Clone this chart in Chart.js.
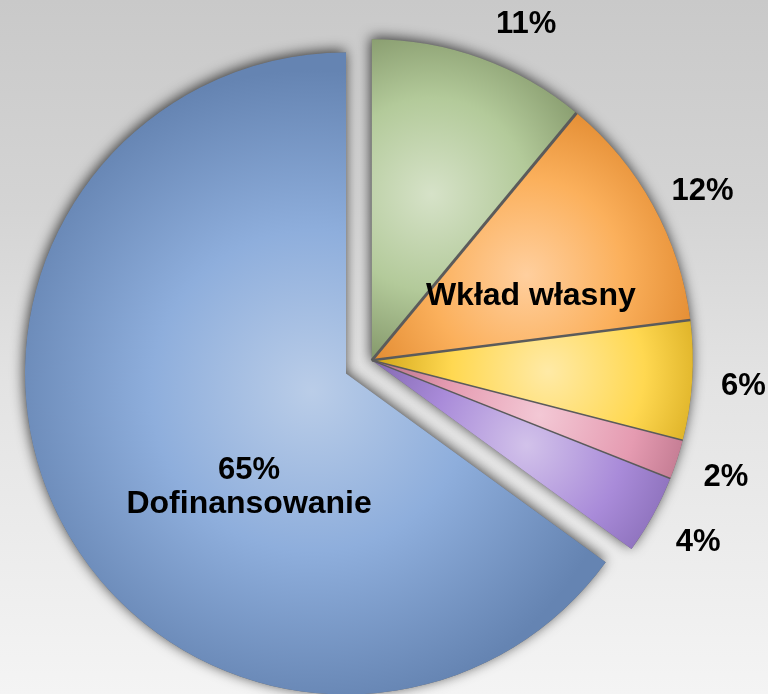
<!DOCTYPE html>
<html>
<head>
<meta charset="utf-8">
<script src="https://cdn.jsdelivr.net/npm/chart.js@4.4.1/dist/chart.umd.min.js"></script>
<style>
html,body{margin:0;padding:0;}
body{width:768px;height:694px;overflow:hidden;
  background:linear-gradient(to bottom,#c9c9c9 0%,#d4d4d4 30%,#e3e3e3 55%,#f4f4f4 100%);}
#wrap{position:relative;width:768px;height:694px;}
</style>
</head>
<body>
<div id="wrap"><canvas id="pie" width="768" height="694"></canvas></div>
<script>
// --- Data ---
const categories = ['', 'Wkład własny', '', '', '', 'Dofinansowanie'];
const shares     = [11, 12, 6, 2, 4, 65];
const pctLabels  = ['11%', '12%', '6%', '2%', '4%', '65%'];

// light / mid / dark per slice (Office-style radial shading)
const shades = [
  ['#d6e2c8', '#b3ca9a', '#7b8e61'],
  ['#ffcf9e', '#fbb05c', '#de852a'],
  ['#ffeaa6', '#ffd851', '#c89a0c'],
  ['#f3c8d5', '#e59bb1', '#a9637b'],
  ['#d2c2ea', '#a98bd9', '#7b61a9'],
  ['#bacde8', '#8eaedc', '#6584b2']
];

const BIG = shares.indexOf(Math.max(...shares));   // the slice that stays in place
const EXPLODE = 29;                                 // px the other slices are pulled out
const nudge = [4.7, 1.4, 0, 0, 0, 0];               // deg, outside label tweak
const sepWidth = [3, 2.5, 1.6, 1.4];                // separator line widths
const FONT = '"Liberation Sans", Arial, sans-serif';

function groupShift(arcs){
  const first = arcs[0], last = arcs[BIG-1];
  const mid = (first.startAngle + last.endAngle)/2;
  return {dx: Math.cos(mid)*EXPLODE, dy: Math.sin(mid)*EXPLODE};
}
function sector(ctx, x, y, r, a0, a1){
  ctx.beginPath();
  ctx.moveTo(x, y);
  ctx.arc(x, y, r, a0, a1);
  ctx.closePath();
}

function shade(c){
  const el = c.element, sh = shades[c.dataIndex];
  if(!el || el.x === undefined || el.outerRadius === undefined) return sh[1];
  const span = el.endAngle - el.startAngle, mid = (el.startAngle + el.endAngle)/2;
  const R = el.outerRadius;
  const f = span > Math.PI ? 0.12 : 0.55, gr = span > Math.PI ? 1.0 : 0.6;
  const gx = el.x + Math.cos(mid)*R*f, gy = el.y + Math.sin(mid)*R*f;
  const g = c.chart.ctx.createRadialGradient(gx, gy, 0, gx, gy, R*gr);
  g.addColorStop(0, sh[0]);
  g.addColorStop(0.5, sh[1]);
  g.addColorStop(1, sh[2]);
  return g;
}

// --- draw slices with shadow, exploded group, separators ---
const piePainter = {
  id: 'piePainter',
  beforeDatasetDraw(chart, args){
    const ctx = chart.ctx, arcs = args.meta.data;
    const s = groupShift(arcs), big = arcs[BIG], first = arcs[0], last = arcs[BIG-1];
    ctx.save();
    ctx.shadowColor = 'rgba(0,0,0,0.75)';
    ctx.shadowBlur = 13;
    ctx.shadowOffsetX = -1;
    ctx.shadowOffsetY = -2;
    ctx.fillStyle = '#6a6a6a';
    sector(ctx, big.x, big.y, big.outerRadius, big.startAngle, big.endAngle); ctx.fill();
    sector(ctx, first.x+s.dx, first.y+s.dy, first.outerRadius, first.startAngle, last.endAngle); ctx.fill();
    ctx.restore();
    arcs.forEach((a,i)=>{
      ctx.save();
      if(i!==BIG) ctx.translate(s.dx, s.dy);
      a.draw(ctx);
      ctx.restore();
    });
    ctx.save();
    ctx.translate(s.dx, s.dy);
    ctx.strokeStyle = '#5b5b5b';
    for(let i=0;i<BIG-1;i++){
      const a = arcs[i];
      ctx.lineWidth = sepWidth[i];
      ctx.beginPath();
      ctx.moveTo(a.x, a.y);
      ctx.lineTo(a.x+Math.cos(a.endAngle)*a.outerRadius, a.y+Math.sin(a.endAngle)*a.outerRadius);
      ctx.stroke();
    }
    ctx.restore();
    return false;
  },
  afterDatasetsDraw(chart){
    const ctx = chart.ctx, arcs = chart.getDatasetMeta(0).data, s = groupShift(arcs);
    ctx.save();
    ctx.fillStyle = '#000';
    ctx.textAlign = 'center';
    ctx.textBaseline = 'alphabetic';
    arcs.forEach((a,i)=>{
      const cx = a.x + (i===BIG?0:s.dx), cy = a.y + (i===BIG?0:s.dy), R = a.outerRadius;
      const put = (txt, ang, rf, size, dy)=>{
        ctx.font = 'bold '+size+'px '+FONT;
        ctx.fillText(txt, cx+Math.cos(ang)*R*rf, cy+Math.sin(ang)*R*rf + dy + size*0.358);
      };
      const span = a.endAngle - a.startAngle;
      if(i===BIG){
        const ang = a.startAngle + span*0.406;
        put(pctLabels[i], ang, 0.46, 31, -17);
        put(categories[i], ang, 0.46, 32, 17);
      } else {
        const mid = (a.startAngle+a.endAngle)/2 + nudge[i]*Math.PI/180;
        put(pctLabels[i], mid, 1.16, 31, 0);
        if(categories[i]) put(categories[i], a.startAngle+span*0.64, 0.537, 32, 0);
      }
    });
    ctx.restore();
  }
};

const chart = new Chart(document.getElementById('pie'), {
  type: 'pie',
  data: {
    labels: categories,
    datasets: [{ data: shares, backgroundColor: shade, borderWidth: 0, hoverOffset: 0 }]
  },
  options: {
    responsive: false,
    animation: false,
    events: [],
    radius: 321,
    layout: { padding: { left: 0, right: 76, top: 53, bottom: 0 } },
    plugins: { legend: { display: false }, tooltip: { enabled: false } }
  },
  plugins: [piePainter]
});
chart.update();   // second pass so the gradients can use the arc geometry
</script>
</body>
</html>
